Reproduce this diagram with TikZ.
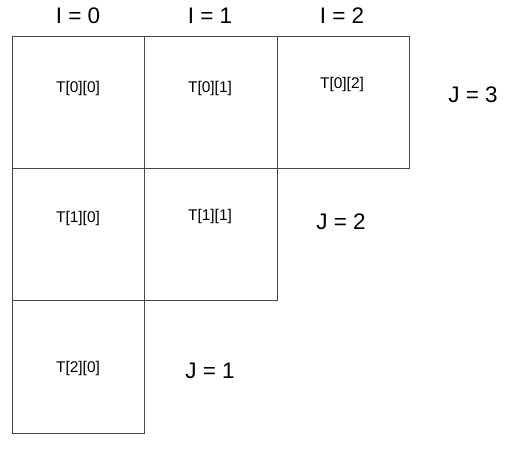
\documentclass[tikz,border=0pt]{standalone}
\usepackage{fontspec}
\setmainfont{Liberation Sans}
\usetikzlibrary{calc}

\begin{document}
\begin{tikzpicture}[x=1pt,y=-1pt,
    cell/.style={draw=black!72,thin,minimum size=132.4pt,inner sep=0pt},
    entry/.style={font=\fontsize{15.5}{18}\selectfont},
    idx/.style={font=\fontsize{22.5}{26}\selectfont}]
                    \useasboundingbox (0,0) rectangle (512,448);
                    \draw (78.2,102.2) node[cell,name=C00] {};
                    \draw (210.6,102.2) node[cell,name=C01] {};
                    \draw (343,102.2) node[cell,name=C02] {};
                    \draw (78.2,234.4) node[cell,name=C10] {};
                    \draw (210.6,234.4) node[cell,name=C11] {};
                    \draw (78.2,366.6) node[cell,name=C20] {};
                    \draw (78,88) node[entry,name=T00] {T[0][0]};
                    \draw (210,88) node[entry,name=T01] {T[0][1]};
                    \draw (342,84) node[entry,name=T02] {T[0][2]};
                    \draw (78,218) node[entry,name=T10] {T[1][0]};
                    \draw (210,216) node[entry,name=T11] {T[1][1]};
                    \draw (78,368) node[entry,name=T20] {T[2][0]};
                    \draw (78,16) node[idx,name=I0] {I = 0};
                    \draw (210,16) node[idx,name=I1] {I = 1};
                    \draw (342,16) node[idx,name=I2] {I = 2};
                    \draw (473,95) node[idx,name=J3] {J = 3};
                    \draw (341,222) node[idx,name=J2] {J = 2};
                    \draw (210,371) node[idx,name=J1] {J = 1};
                \end{tikzpicture}
\end{document}
